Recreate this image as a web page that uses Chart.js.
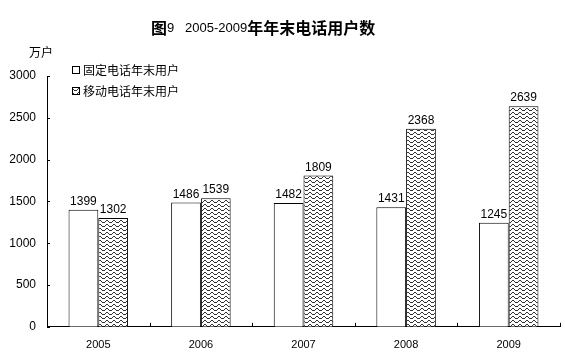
<!DOCTYPE html>
<html><head><meta charset="utf-8">
<script src="https://cdn.jsdelivr.net/npm/chart.js@4/dist/chart.umd.min.js"></script>
<style>html,body{margin:0;padding:0;background:#fff}#wrap{width:565px;height:360px;position:relative}</style>
</head><body><div id="wrap"><canvas id="c" width="565" height="360"></canvas></div>
<script>
const categories = ["2005", "2006", "2007", "2008", "2009"];
const fixedUsers = [1399, 1486, 1482, 1431, 1245];
const mobileUsers = [1302, 1539, 1809, 2368, 2639];
const seriesNames = ["固定电话年末用户", "移动电话年末用户"];
const yTicks = [0, 500, 1000, 1500, 2000, 2500, 3000];
const titleParts = [["图", true], ["9   2005-2009", false], ["年年末电话用户数", true]];
const unitLabel = "万户";

const CJK = '"SimSun","Noto Sans CJK SC","Liberation Sans",sans-serif';
const NUM = '"Liberation Sans","DejaVu Sans",sans-serif';

function makeWave() {
  const t = document.createElement('canvas');
  t.width = 7; t.height = 4;
  const g = t.getContext('2d');
  g.fillStyle = '#fff'; g.fillRect(0, 0, 7, 4);
  g.fillStyle = '#333';
  const ys = [1, 0, 0, 1, 2, 2, 2];
  ys.forEach((y, x) => g.fillRect(x, y, 1, 1));
  return document.getElementById('c').getContext('2d').createPattern(t, 'repeat');
}
const wave = makeWave();

const decor = {
  id: 'decor',
  afterDraw(chart) {
    const ctx = chart.ctx, ca = chart.chartArea;
    const xs = chart.scales.x, ys = chart.scales.y;
    ctx.save();
    ctx.strokeStyle = '#000'; ctx.lineWidth = 1;
    yTicks.forEach(v => {
      const y = Math.round(ys.getPixelForValue(v)) + 0.5;
      ctx.beginPath(); ctx.moveTo(ca.left, y); ctx.lineTo(ca.left + 3, y); ctx.stroke();
    });
    const step = xs.getPixelForValue(1) - xs.getPixelForValue(0);
    for (let i = 0; i < categories.length; i++) {
      const px = Math.round(xs.getPixelForValue(i) + step / 2) + 0.5;
      ctx.beginPath(); ctx.moveTo(px, ca.bottom); ctx.lineTo(px, ca.bottom - 4); ctx.stroke();
    }
    ctx.fillStyle = '#000';
    ctx.font = '12px ' + NUM;
    ctx.textAlign = 'center'; ctx.textBaseline = 'bottom';
    chart.data.datasets.forEach((ds, di) => {
      chart.getDatasetMeta(di).data.forEach((bar, i) => {
        ctx.fillText(String(ds.data[i]), bar.x, bar.y - 2);
      });
    });
    ctx.font = '12px ' + CJK;
    ctx.textAlign = 'center'; ctx.textBaseline = 'middle';
    ctx.fillText(unitLabel, 41, 52);
    ctx.textBaseline = 'middle'; ctx.textAlign = 'left';
    const fonts = titleParts.map(p => (p[1] ? 'bold 16px ' + CJK : '13px ' + NUM));
    let x = 151;
    titleParts.forEach((p, i) => { ctx.font = fonts[i]; ctx.fillText(p[0], x, 28); x += ctx.measureText(p[0]).width; });
    ctx.font = '12px ' + CJK;
    const ly = [70, 91];
    chart.data.datasets.forEach((ds, di) => {
      const bx = 72, by = ly[di] - 4;
      ctx.fillStyle = di === 0 ? '#fff' : wave;
      ctx.fillRect(bx, by, 7, 7);
      ctx.strokeRect(bx + 0.5, by + 0.5, 7, 7);
      ctx.fillStyle = '#000';
      ctx.fillText(seriesNames[di], 83, ly[di]);
    });
    ctx.restore();
  }
};

new Chart(document.getElementById('c'), {
  type: 'bar',
  data: {
    labels: categories,
    datasets: [
      { label: seriesNames[0], data: fixedUsers, backgroundColor: '#fff', borderColor: '#000', borderWidth: 1 },
      { label: seriesNames[1], data: mobileUsers, backgroundColor: wave, borderColor: '#000', borderWidth: 1 }
    ]
  },
  options: {
    responsive: false, animation: false,
    devicePixelRatio: 1,
    layout: { padding: { top: 76, right: 5, left: 0, bottom: -4 } },
    plugins: { legend: { display: false }, title: { display: false }, tooltip: { enabled: false } },
    datasets: { bar: { categoryPercentage: 0.58, barPercentage: 1.0 } },
    scales: {
      x: {
        grid: { display: false, drawTicks: false },
        border: { color: '#000', width: 1 },
        ticks: { color: '#000', font: { family: NUM, size: 11 }, padding: 12 }
      },
      y: {
        min: 0, max: 3000,
        afterBuildTicks: s => { s.ticks = yTicks.map(v => ({ value: v })); },
        grid: { display: false, drawTicks: false },
        border: { color: '#000', width: 1 },
        ticks: { color: '#000', font: { family: NUM, size: 12 }, padding: 11, callback: v => String(v) },
        afterFit: s => { s.width = 47; }
      }
    }
  },
  plugins: [decor]
});
</script></body></html>
